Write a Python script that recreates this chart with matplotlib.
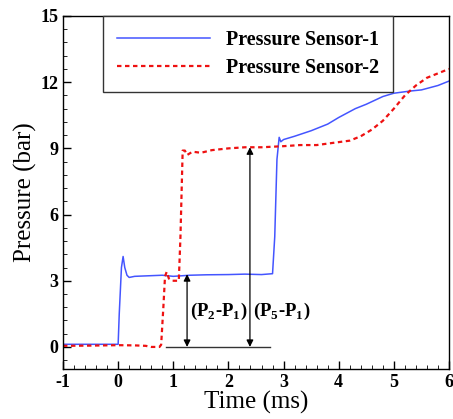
import numpy as np
import matplotlib.pyplot as plt
from matplotlib.ticker import MultipleLocator

plt.rcParams['font.family'] = ['Liberation Serif', 'DejaVu Serif']
plt.rcParams['mathtext.fontset'] = 'custom'
plt.rcParams['mathtext.rm'] = 'Liberation Serif:bold'
plt.rcParams['mathtext.bf'] = 'Liberation Serif:bold'
plt.rcParams['axes.unicode_minus'] = False

# Pressure Sensor-1
t1 = [-1.0, -0.5, 0.0, 0.02, 0.06, 0.09, 0.12, 0.16, 0.2, 0.3, 0.5, 0.8, 1.0, 1.3, 1.6,
      2.0, 2.3, 2.6, 2.8, 2.84, 2.88, 2.92, 2.95, 3.0, 3.2, 3.5, 3.8, 4.0, 4.3, 4.5,
      4.8, 5.0, 5.3, 5.5, 5.8, 6.0]
p1 = [0.12, 0.12, 0.12, 1.5, 3.6, 4.1, 3.6, 3.25, 3.15, 3.2, 3.22, 3.25, 3.2, 3.25, 3.27,
      3.28, 3.3, 3.28, 3.32, 5.0, 8.5, 9.5, 9.3, 9.4, 9.55, 9.8, 10.1, 10.4, 10.8, 11.0,
      11.35, 11.5, 11.6, 11.65, 11.85, 12.05]

# Pressure Sensor-2
t2 = [-1.0, -0.5, 0.0, 0.3, 0.5, 0.6, 0.75, 0.78, 0.82, 0.85, 0.88, 0.92, 0.98, 1.05, 1.1,
      1.13, 1.17, 1.21, 1.25, 1.35, 1.5, 1.7, 2.0, 2.3, 2.6, 3.0, 3.3, 3.6, 3.9, 4.2,
      4.4, 4.6, 4.8, 5.0, 5.2, 5.4, 5.6, 5.8, 6.0]
p2 = [0.05, 0.06, 0.08, 0.07, 0.05, 0.0, 0.0, 0.1, 1.8, 3.2, 3.4, 3.1, 3.0, 3.0, 3.0,
      5.0, 8.9, 8.9, 8.7, 8.85, 8.8, 8.92, 9.0, 9.05, 9.05, 9.1, 9.15, 9.15, 9.25, 9.35,
      9.55, 9.85, 10.25, 10.8, 11.4, 11.85, 12.2, 12.4, 12.6]

fig = plt.figure(figsize=(4.53, 4.19), dpi=100)
ax = fig.add_axes([63 / 453, 1 - 369 / 419, 386 / 453, 353 / 419])

ax.plot(t1, p1, color='#4455ff', lw=1.1, label='Pressure Sensor-1')
ax.plot(t2, p2, color='#ee1111', lw=1.6, ls=(0, (2.0, 1.6)), label='Pressure Sensor-2')

# annotation lines
ax.plot([0.87, 2.75], [0, 0], color='#333333', lw=1.0)
ax.annotate('', xy=(1.25, 3.3), xytext=(1.25, 0),
            arrowprops=dict(arrowstyle='<|-|>', color='black', lw=0.9,
                            mutation_scale=10, shrinkA=0, shrinkB=0))
ax.annotate('', xy=(2.39, 9.05), xytext=(2.39, 0),
            arrowprops=dict(arrowstyle='<|-|>', color='black', lw=0.9,
                            mutation_scale=10, shrinkA=0, shrinkB=0))
ax.text(1.3, 1.6, r'(P$_2$-P$_1$)', fontsize=13.5, fontweight='bold', va='center')
ax.text(2.44, 1.6, r'(P$_5$-P$_1$)', fontsize=13.5, fontweight='bold', va='center')

ax.set_xlim(-1, 6)
ax.set_ylim(-1, 15)
ax.set_xticks(np.arange(-1, 7, 1))
ax.set_yticks(np.arange(0, 16, 3))
ax.xaxis.set_minor_locator(MultipleLocator(0.2))
ax.yaxis.set_minor_locator(MultipleLocator(0.6))
ax.tick_params(which='both', direction='in', top=False, right=False)
ax.tick_params(which='major', length=6, width=1)
ax.tick_params(which='minor', length=3, width=0.6)
for lab in ax.get_xticklabels() + ax.get_yticklabels():
    lab.set_fontweight('bold')
    lab.set_fontsize(13)
ax.set_xlabel('Time (ms)', fontsize=18, labelpad=0)
ax.set_ylabel('Pressure (bar)', fontsize=18, labelpad=2)
for s in ax.spines.values():
    s.set_linewidth(1.0)

leg = ax.legend(loc='upper left', bbox_to_anchor=(0.104, 1.0), borderaxespad=0,
                prop={'weight': 'bold', 'size': 14.5},
                handlelength=4.6, handletextpad=0.8, borderpad=0.7, labelspacing=0.4,
                fancybox=False, framealpha=1, edgecolor='#333333')
leg.get_frame().set_linewidth(1.0)

fig.savefig('out.png', dpi=100)
